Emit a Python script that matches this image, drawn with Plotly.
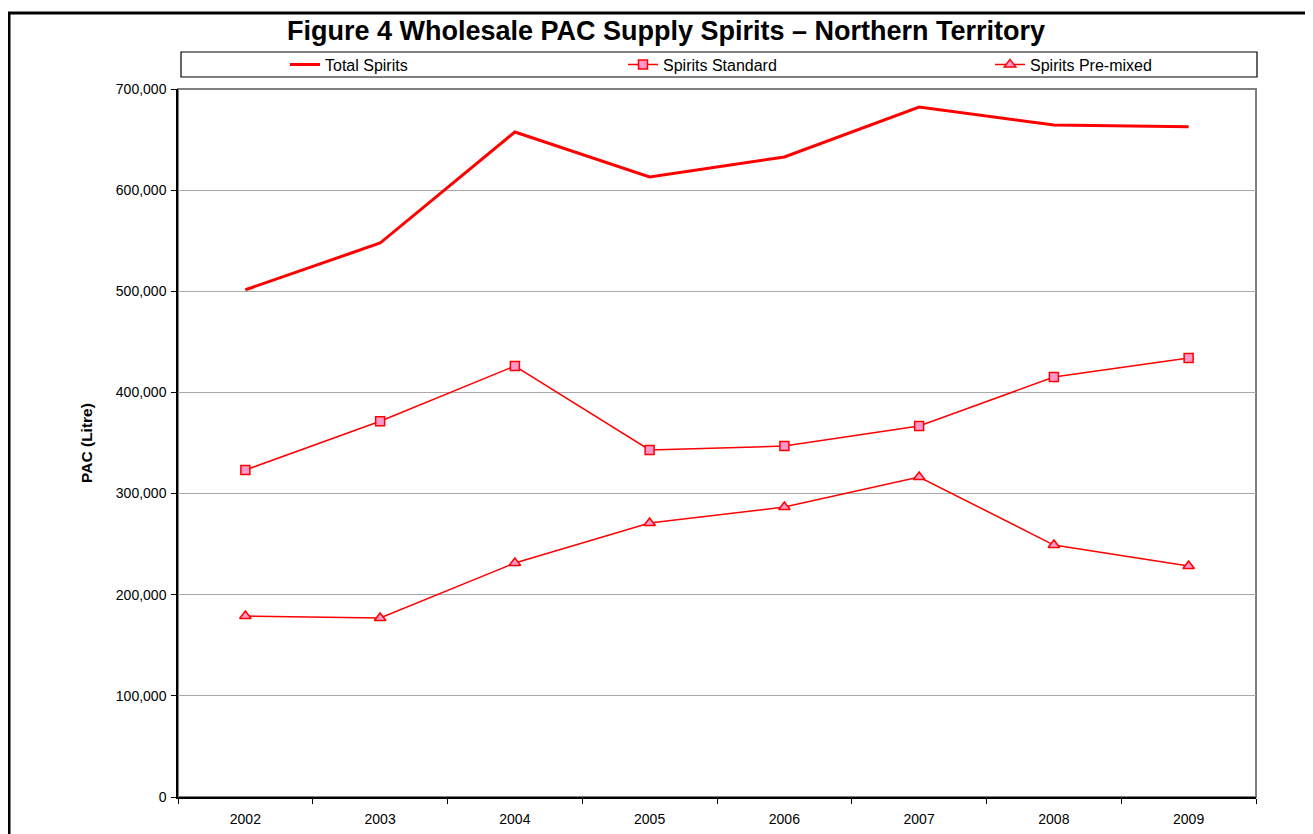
import plotly.graph_objects as go

years = ["2002", "2003", "2004", "2005", "2006", "2007", "2008", "2009"]
total_spirits = [501500, 547700, 657500, 613000, 632800, 682200, 664400, 662600]
spirits_standard = [323300, 371500, 426100, 343100, 347000, 366800, 415200, 434000]
spirits_premixed = [178900, 177000, 231300, 270900, 286700, 316400, 249100, 228400]

tick_vals = [0, 100000, 200000, 300000, 400000, 500000, 600000, 700000]
tick_text = ["0", "100,000", "200,000", "300,000", "400,000", "500,000", "600,000", "700,000"]

OFF = 8  # page body margin
W, H = 1305, 826
L, T = 178 - OFF, 89 - OFF
pw, ph = 1078, 708
R = W - L - pw
B = H - T - ph

def px(x):
    """page x -> paper x"""
    return (x - OFF - L) / pw

def py(y):
    """page y -> paper y"""
    return (T + ph - (y - OFF)) / ph

fig = go.Figure()
fig.add_trace(go.Scatter(x=years, y=total_spirits, name="Total Spirits", mode="lines",
                         line=dict(color="#FF0000", width=3), legend="legend"))
fig.add_trace(go.Scatter(x=years, y=spirits_standard, name="Spirits Standard", mode="lines+markers",
                         line=dict(color="#FF0000", width=1.5),
                         marker=dict(symbol="square", size=9, color="#FF99CC",
                                     line=dict(color="#FF0000", width=1.5)),
                         legend="legend2"))
fig.add_trace(go.Scatter(x=years, y=spirits_premixed, name="Spirits Pre-mixed", mode="lines+markers",
                         line=dict(color="#FF0000", width=1.5),
                         marker=dict(symbol="triangle-up", size=10, color="#FF99CC",
                                     line=dict(color="#FF0000", width=1.5)),
                         legend="legend3"))

shapes = [
    dict(type="rect", xref="paper", yref="paper", x0=px(9), x1=px(1340), y0=py(860), y1=py(13),
         line=dict(color="black", width=3), layer="below"),
    dict(type="rect", xref="paper", yref="paper", x0=0, x1=1, y0=0, y1=1,
         line=dict(color="#808080", width=2), layer="below"),
    dict(type="rect", xref="paper", yref="paper", x0=px(181), x1=px(1257), y0=py(77), y1=py(52),
         line=dict(color="black", width=1.2), fillcolor="white", layer="below"),
]

leg_common = dict(orientation="h", xanchor="left", yanchor="middle", y=py(64.5),
                  bgcolor="rgba(0,0,0,0)", font=dict(size=16), itemwidth=30)

fig.update_layout(
    width=W, height=H,
    margin=dict(l=L, r=R, t=T, b=B, autoexpand=False),
    paper_bgcolor="white", plot_bgcolor="white",
    font=dict(family="Liberation Sans, Arial, sans-serif", size=14, color="black"),
    title=dict(text="<b>Figure 4 Wholesale PAC Supply Spirits – Northern Territory</b>",
               xref="container", x=(666 - OFF) / W, xanchor="center",
               yref="container", y=1 - (31 - OFF) / H, yanchor="middle",
               font=dict(size=27, color="black")),
    showlegend=True,
    legend=dict(x=px(285), **leg_common),
    legend2=dict(x=px(623), **leg_common),
    legend3=dict(x=px(990), **leg_common),
    shapes=shapes,
    xaxis=dict(type="category", range=[-0.5, len(years) - 0.5],
               showline=True, linecolor="black", linewidth=1.5,
               ticks="outside", tickson="boundaries", ticklen=5, tickcolor="black",
               ticklabelstandoff=8,
               showgrid=False, tickfont=dict(size=14), zeroline=False),
    yaxis=dict(range=[0, 700000], tickvals=tick_vals, ticktext=tick_text,
               showline=True, linecolor="black", linewidth=1.5,
               ticks="outside", ticklen=5, tickcolor="black", ticklabelstandoff=2,
               showgrid=True, gridcolor="#A8A8A8", gridwidth=1, zeroline=False,
               tickfont=dict(size=14),
               title=dict(text="<b>PAC (Litre)</b>", font=dict(size=15.5), standoff=19)),
)

fig.write_html("out.html")
